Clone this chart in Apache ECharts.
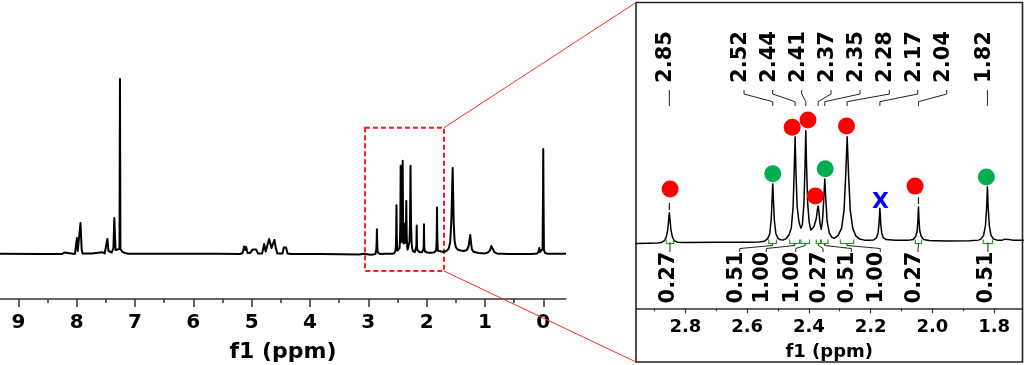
<!DOCTYPE html>
<html><head><meta charset="utf-8">
<script src="https://cdn.jsdelivr.net/npm/echarts@6/dist/echarts.min.js"></script>
<style>html,body{margin:0;padding:0;background:#fff;}#c{width:1024px;height:365px;}</style>
</head><body><div id="c"></div>
<script>
// ---------- DATA ----------
// spectrum: [chemical shift (ppm), intensity]
const spectrum = [
 [9.315,0.3],[8.6,0.1],[8.25,0],[8.21,1.5],[8.18,0],[8.03,0],[8.008,2],[7.997,16],[7.99,16],[7.982,3],[7.955,3],
 [7.935,31],[7.924,31],[7.914,4],[7.90,0.5],[7.8,0.6],[7.74,0.5],[7.71,1.8],[7.56,1.8],[7.52,0.5],[7.49,1.5],
 [7.474,15],[7.465,15],[7.455,3],[7.40,1.5],[7.37,6],[7.355,36],[7.344,36],[7.334,4],[7.30,3],[7.266,5],
 [7.258,175],[7.25,5],[7.215,2],[7.19,3.5],[7.17,1],[7.12,0.3],[6.5,0.2],[5.6,0.2],[5.2,0],[5.155,1],[5.13,7.5],
 [5.112,4],[5.095,7],[5.07,1],[5.03,1],[4.98,4.5],[4.955,3],[4.925,4.5],[4.89,0.5],[4.82,0.5],[4.785,10],
 [4.76,2.5],[4.735,3],[4.70,15],[4.66,6],[4.61,14],[4.585,6],[4.56,0.5],[4.47,0.5],[4.45,6.5],[4.43,8],
 [4.41,6.5],[4.385,0.5],[4.33,0],[3.8,0],[3.16,-0.5],[3.14,0.8],[3.08,0.2],
 [2.96,-0.8],[2.92,-0.6],[2.89,-0.4],[2.878,0],[2.868,1.5],[2.862,4.5],[2.857,11],[2.8545,18],[2.852,24.8],
 [2.8495,18],[2.847,11],[2.842,4.5],[2.836,1.5],[2.826,0.3],[2.80,0],[2.70,0.2],[2.60,0.3],[2.56,0.5],
 [2.545,1],[2.534,3],[2.527,7],[2.522,19],[2.5195,34],[2.517,48.7],[2.5145,34],[2.512,19],[2.507,7.5],
 [2.500,3.5],[2.492,2.3],[2.487,2.8],[2.482,2.2],[2.475,3],[2.465,6],[2.457,12],[2.451,30],[2.4475,60],
 [2.4446,88.2],[2.442,60],[2.438,30],[2.432,17],[2.426,12],[2.421,15],[2.416,33],[2.4125,64],[2.410,93.2],
 [2.4075,64],[2.404,33],[2.399,17],[2.394,10.5],[2.384,13],[2.376,20],[2.372,28],[2.370,30.4],[2.368,27],
 [2.364,16],[2.360,11],[2.356,18],[2.352,35],[2.3485,52.9],[2.345,35],[2.341,18],[2.334,8],[2.326,4.5],
 [2.318,3.5],[2.305,6],[2.294,12],[2.286,27],[2.2805,57],[2.276,88.2],[2.2715,57],[2.266,27],[2.258,12],
 [2.248,5.5],[2.236,3],[2.22,2],[2.20,2],[2.19,2.2],[2.181,4],[2.176,8],[2.173,15],[2.170,28.5],[2.167,15],
 [2.164,8],[2.159,4],[2.15,2.5],[2.12,1.8],[2.08,1.8],[2.062,2.5],[2.054,5],[2.049,10],[2.047,18],[2.045,29.8],
 [2.043,18],[2.041,10],[2.036,5],[2.028,2.5],[2.01,1.6],[1.998,1.5],[1.994,2.5],[1.990,1.5],[1.95,1.3],
 [1.88,1.4],[1.85,2],[1.842,3],[1.834,6],[1.828,14],[1.8245,28],[1.8216,46.5],[1.819,28],[1.8155,14],
 [1.810,6],[1.802,3],[1.79,2],[1.775,1.8],[1.765,2.8],[1.759,3.2],[1.752,2.5],[1.74,2],[1.72,2],
 [1.70,2],[1.66,3],[1.62,5.5],[1.595,12],[1.575,35],[1.56,70],[1.553,86],[1.545,60],[1.535,30],[1.52,13],
 [1.50,7],[1.47,4.5],[1.42,3.5],[1.36,3],[1.31,4],[1.28,8],[1.262,15],[1.251,19],[1.24,12],[1.225,5],
 [1.20,2.5],[1.15,1.5],[1.11,1],[1.10,2.5],[1.09,1],[1.0,0.6],[0.95,1.5],[0.91,4],[0.89,8],[0.879,10],
 [0.866,6],[0.84,2],[0.80,0.6],[0.6,0.1],[0.2,0.1],[0.10,0.6],[0.078,3],[0.068,6],[0.058,2],[0.03,1.5],
 [0.012,5],[0.004,60],[0.0,105],[-0.004,60],[-0.012,4],[-0.03,1],[-0.08,0.3],[-0.39,0.2]
];
const fullMajorTicks = [0,1,2,3,4,5,6,7,8,9];
const fullMinorTicks = [0.5,1.5,2.5,3.5,4.5,5.5,6.5,7.5,8.5];
const insetMajorTicks = [1.8,2.0,2.2,2.4,2.6,2.8];
const insetMinorTicks = [1.9,2.1,2.3,2.5,2.7,2.9];
const peakLabels = ['2.85','2.52','2.44','2.41','2.37','2.35','2.28','2.17','2.04','1.82'];
const peakPpm = [2.852,2.517,2.4446,2.410,2.370,2.3485,2.276,2.170,2.045,1.8216];
const integralLabels = ['0.27','0.51','1.00','1.00','0.27','0.51','1.00','0.27','0.51'];
const integralFrom = [2.862,2.530,2.462,2.426,2.376,2.360,2.298,2.055,1.835];
const integralTo   = [2.838,2.505,2.430,2.398,2.362,2.338,2.255,2.035,1.805];
const markerPpm    = [2.8496,2.517,2.454,2.403,2.379,2.347,2.278,2.056,1.825];
const markerHeight = [44.6,57.3,96,102,38.75,61.5,97,47,54.6];
const markerKind   = ['red','green','red','red','red','green','red','red','green'];
const crossPpm = [2.168];
const crossHeight = [33.5];
const zoomRange = {from: 3.057, to: 1.702, top: 126.3, bottom: -17};

// ---------- LAYOUT ----------
const topLineX = [669.3,744,772.7,801.7,831,860,889.3,917.7,946.7,987.7];
const bottomLineX = [671.7,739.7,766.3,795.7,823,851.3,880.3,918,989.7];
const FONT = '"DejaVu Sans", Verdana, sans-serif';
const COLORS = {red:'#ff0000', green:'#00b050'};

const chart = echarts.init(document.getElementById('c'));
const axisCommon = {
  type:'value', inverse:true, position:'bottom', splitLine:{show:false}
};
const option = {
  animation:false,
  textStyle:{fontFamily:FONT},
  grid:[
    {left:0, right:458, top:54, bottom:66, containLabel:false, outerBoundsMode:'none'},
    {left:636, right:1.5, top:2, bottom:56.7, containLabel:false, outerBoundsMode:'none'}
  ],
  xAxis:[
    Object.assign({}, axisCommon, {gridIndex:0, min:-0.39, max:9.315,
      axisLine:{show:true, onZero:false, lineStyle:{color:'#333', width:1.5}},
      axisTick:{show:true, length:8, lineStyle:{color:'#333', width:1.5}, customValues:fullMajorTicks},
      axisLabel:{show:true, customValues:fullMajorTicks, color:'#000', fontWeight:'bold', fontSize:20, margin:14, fontFamily:FONT},
      name:'f1 (ppm)', nameLocation:'middle', nameGap:42,
      nameTextStyle:{color:'#000', fontWeight:'bold', fontSize:22, fontFamily:FONT}}),
    Object.assign({}, axisCommon, {gridIndex:0, min:-0.39, max:9.315,
      axisLine:{show:false, onZero:false},
      axisTick:{show:true, length:4, lineStyle:{color:'#333', width:1.5}, customValues:fullMinorTicks},
      axisLabel:{show:false}}),
    Object.assign({}, axisCommon, {gridIndex:1, min:1.708, max:2.96,
      axisLine:{show:true, onZero:false, lineStyle:{color:'#333', width:1.5}},
      axisTick:{show:true, length:5, lineStyle:{color:'#333', width:1.2}, customValues:insetMajorTicks},
      axisLabel:{show:true, customValues:insetMajorTicks, formatter:v=>Number(v).toFixed(1),
        color:'#000', fontWeight:'bold', fontSize:18, margin:10, fontFamily:FONT},
      name:'f1 (ppm)', nameLocation:'middle', nameGap:35,
      nameTextStyle:{color:'#000', fontWeight:'bold', fontSize:18, fontFamily:FONT}}),
    Object.assign({}, axisCommon, {gridIndex:1, min:1.708, max:2.96,
      axisLine:{show:false, onZero:false},
      axisTick:{show:true, length:3, lineStyle:{color:'#333', width:1.2}, customValues:insetMinorTicks},
      axisLabel:{show:false}})
  ],
  yAxis:[
    {type:'value', gridIndex:0, min:-45, max:200, show:false},
    {type:'value', gridIndex:1, min:-54.8, max:200.4, show:false}
  ],
  series:[
    {type:'line', xAxisIndex:0, yAxisIndex:0, data:spectrum, showSymbol:false, symbol:'none',
      lineStyle:{color:'#000', width:2, join:'round'}, z:2,
      markArea:{silent:true, data:[[{coord:[zoomRange.from, zoomRange.top]},{coord:[zoomRange.to, zoomRange.bottom]}]],
        itemStyle:{color:'rgba(0,0,0,0)', borderColor:'#ff1a1a', borderWidth:2, borderType:[5,3]}}},
    {type:'line', xAxisIndex:2, yAxisIndex:1, data:spectrum, showSymbol:false, symbol:'none', clip:true,
      lineStyle:{color:'#000', width:1.5, join:'round'}, z:2},
    {type:'custom', xAxisIndex:2, yAxisIndex:1, z:3,
      data: integralFrom.map((f,i)=>[f, integralTo[i]]),
      encode:{x:[0,1]},
      renderItem:(params, api)=>{
        const a = api.coord([api.value(0), 0]);
        const b = api.coord([api.value(1), 0]);
        const st = {stroke:'#1fa31f', lineWidth:1.2};
        return {type:'group', children:[
          {type:'line', shape:{x1:a[0],y1:a[1]+1,x2:b[0],y2:b[1]+1}, style:st},
          {type:'line', shape:{x1:a[0],y1:a[1]-3,x2:a[0],y2:a[1]+1.5}, style:st},
          {type:'line', shape:{x1:b[0],y1:b[1]-3,x2:b[0],y2:b[1]+1.5}, style:st}
        ]};
      }},
    {type:'scatter', xAxisIndex:2, yAxisIndex:1, symbol:'circle', symbolSize:17, z:5,
      itemStyle:{opacity:1},
      data: markerPpm.map((p,i)=>({value:[p, markerHeight[i]], itemStyle:{color:COLORS[markerKind[i]], opacity:1}}))},
    {type:'scatter', xAxisIndex:2, yAxisIndex:1, symbol:'rect', symbolSize:1, z:5,
      itemStyle:{color:'rgba(0,0,0,0)', opacity:1},
      label:{show:true, position:'inside', formatter:'X', color:'#0000ff', fontWeight:'bold', fontSize:22, fontFamily:FONT, opacity:1},
      data: crossPpm.map((p,i)=>[p, crossHeight[i]])}
  ]
};
chart.setOption(option);

// ---------- ANNOTATIONS ----------
const P = (p,v)=>chart.convertToPixel({seriesIndex:1}, [p,v]);
const L = (p,v)=>chart.convertToPixel({seriesIndex:0}, [p,v]);
const g = [];
g.push({type:'rect', shape:{x:636, y:2.5, width:386.5, height:359.5}, style:{fill:null, stroke:'#222', lineWidth:1.6}, z:10});
const boxTR = L(zoomRange.to, zoomRange.top), boxBR = L(zoomRange.to, zoomRange.bottom);
g.push({type:'line', shape:{x1:boxTR[0], y1:boxTR[1], x2:636, y2:2.5}, style:{stroke:'#ff2a2a', lineWidth:1}, z:10});
g.push({type:'line', shape:{x1:boxBR[0], y1:boxBR[1], x2:636, y2:362}, style:{stroke:'#ff2a2a', lineWidth:1}, z:10});
const lineStyle = {stroke:'#222', lineWidth:1, fill:null};
peakLabels.forEach((t,i)=>{
  const lx = topLineX[i];
  const px = P(peakPpm[i], 0)[0];
  g.push({type:'text', x:lx-3.5, y:57, rotation:Math.PI/2,
    style:{text:t, font:'bold 21px '+FONT, fill:'#000', align:'center', verticalAlign:'middle'}, z:10});
  const pts = (i===0 || i===peakLabels.length-1) ? [[px,90],[px,106]] : [[lx,90],[lx,94],[px,101.7],[px,106]];
  g.push({type:'polyline', shape:{points:pts}, style:lineStyle, z:10});
});
integralLabels.forEach((t,i)=>{
  const lx = bottomLineX[i];
  const c = P((integralFrom[i]+integralTo[i])/2, 0);
  g.push({type:'text', x:lx-3.5, y:277.5, rotation:Math.PI/2,
    style:{text:t, font:'bold 21px '+FONT, fill:'#000', align:'center', verticalAlign:'middle'}, z:10});
  const pts = (i===0 || i===integralLabels.length-1) ? [[c[0],252],[c[0],c[1]]] :
    [[lx,252],[lx,248.5],[c[0],245.5],[c[0],c[1]+1]];
  g.push({type:'polyline', shape:{points:pts}, style:lineStyle, z:10});
});
// short peak-label stubs under two markers
[[2.852,27,33.2],[2.045,32,37.7]].forEach(s=>{
  const a = P(s[0], s[1]), b = P(s[0], s[2]);
  g.push({type:'line', shape:{x1:a[0],y1:a[1],x2:b[0],y2:b[1]}, style:{stroke:'#222', lineWidth:1.2}, z:10});
});
chart.setOption({graphic:g});
</script></body></html>
